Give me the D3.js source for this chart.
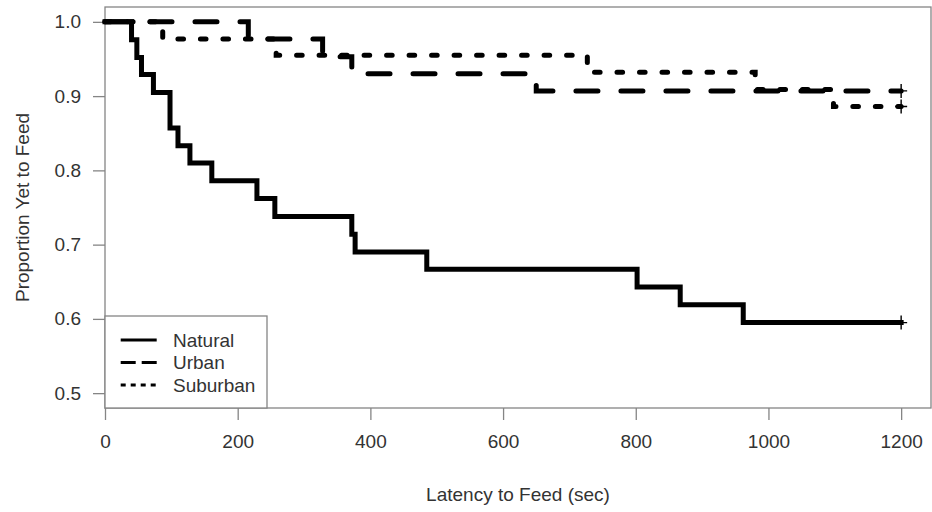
<!DOCTYPE html>
<html>
<head>
<meta charset="utf-8">
<script src="https://cdn.jsdelivr.net/npm/d3@7"></script>
<style>
  html, body { margin: 0; padding: 0; background: #fff; }
  svg { display: block; }
  text { font-family: "Liberation Sans", Arial, Helvetica, sans-serif; fill: #333; }
</style>
</head>
<body>
<svg id="chart" width="932" height="512"></svg>
<script>
// ---- data ----
const seriesNames = ["Natural", "Urban", "Suburban"];

const naturalTimes = [0, 40, 48, 55, 73, 98, 110, 128, 161, 229, 256, 372, 377, 485, 802, 867, 962, 1200];
const naturalSurv  = [1.0, 0.976, 0.952, 0.929, 0.905, 0.857, 0.833, 0.810, 0.786, 0.762, 0.738, 0.714, 0.690, 0.667, 0.643, 0.619, 0.595, 0.595];

const urbanTimes = [0, 216, 328, 372, 650, 1200];
const urbanSurv  = [1.0, 0.977, 0.953, 0.930, 0.907, 0.907];

const suburbanTimes = [0, 87, 258, 727, 980, 1098, 1200];
const suburbanSurv  = [1.0, 0.977, 0.955, 0.932, 0.909, 0.886, 0.886];

const censorTime = 1200;

const xTicks = [0, 200, 400, 600, 800, 1000, 1200];
const yTicks = [0.5, 0.6, 0.7, 0.8, 0.9, 1.0];

const xTitle = "Latency to Feed (sec)";
const yTitle = "Proportion Yet to Feed";

// ---- layout ----
const svg = d3.select("#chart");
const plot = { left: 105, right: 931, top: 7, bottom: 408 };

const x = d3.scaleLinear().domain([0, 1245]).range([plot.left, plot.right]);
const y = d3.scaleLinear().domain([0.48, 1.02]).range([plot.bottom, plot.top]);

const axisColor = "#858585";

// box
svg.append("rect")
  .attr("x", plot.left).attr("y", plot.top)
  .attr("width", plot.right - plot.left).attr("height", plot.bottom - plot.top)
  .attr("fill", "none").attr("stroke", axisColor).attr("stroke-width", 1.3);

// x axis
const xAxis = svg.append("g")
  .attr("transform", `translate(0,${plot.bottom})`)
  .call(d3.axisBottom(x).tickValues(xTicks).tickFormat(d3.format("d")).tickSize(12).tickPadding(15));
xAxis.select(".domain").remove();
xAxis.selectAll(".tick line").attr("stroke", axisColor).attr("stroke-width", 1.3);
xAxis.selectAll(".tick text").style("font-size", "19px").attr("fill", "#333")
  .style("font-family", '"Liberation Sans", Arial, sans-serif');

// y axis
const yAxis = svg.append("g")
  .attr("transform", `translate(${plot.left},0)`)
  .call(d3.axisLeft(y).tickValues(yTicks).tickFormat(d3.format(".1f")).tickSize(12).tickPadding(12));
yAxis.select(".domain").remove();
yAxis.selectAll(".tick line").attr("stroke", axisColor).attr("stroke-width", 1.3);
yAxis.selectAll(".tick text").style("font-size", "19px").attr("fill", "#333")
  .style("font-family", '"Liberation Sans", Arial, sans-serif');

// titles
svg.append("text")
  .attr("x", (plot.left + plot.right) / 2).attr("y", 494)
  .attr("text-anchor", "middle").attr("dominant-baseline", "central")
  .style("font-size", "19px").text(xTitle);

svg.append("text")
  .attr("transform", `translate(22,${(plot.top + plot.bottom) / 2}) rotate(-90)`)
  .attr("text-anchor", "middle").attr("dominant-baseline", "central")
  .style("font-size", "19px").text(yTitle);

// step curves
const stepLine = d3.line().x(d => x(d[0])).y(d => y(d[1])).curve(d3.curveStepAfter);

const series = [
  { name: seriesNames[0], times: naturalTimes, surv: naturalSurv, dash: null, cap: "square", ldash: null },
  { name: seriesNames[1], times: urbanTimes, surv: urbanSurv, dash: "22,23", cap: "round", ldash: "15,6" },
  { name: seriesNames[2], times: suburbanTimes, surv: suburbanSurv, dash: "5.6,16.9", cap: "round", ldash: "5,5" }
];

const g = svg.append("g");
series.slice().reverse().forEach(s => {
  const pts = s.times.map((t, i) => [t, s.surv[i]]);
  g.append("path")
    .datum(pts)
    .attr("d", stepLine)
    .attr("fill", "none")
    .attr("stroke", "#000")
    .attr("stroke-width", 5)
    .attr("stroke-linecap", s.cap)
    .attr("stroke-linejoin", "miter")
    .attr("stroke-dasharray", s.dash);
  // censor mark
  const cy = y(s.surv[s.surv.length - 1]);
  const cx = x(censorTime);
  g.append("path")
    .attr("d", `M${cx - 6},${cy}H${cx + 6}M${cx},${cy - 7}V${cy + 7}`)
    .attr("stroke", "#000").attr("stroke-width", 1.4).attr("fill", "none");
});

// legend
const leg = svg.append("g");
leg.append("rect")
  .attr("x", plot.left).attr("y", 316)
  .attr("width", 267 - plot.left).attr("height", plot.bottom - 316)
  .attr("fill", "#fff").attr("stroke", axisColor).attr("stroke-width", 1.3);
const legY = [340, 362.5, 385];
series.forEach((s, i) => {
  leg.append("line")
    .attr("x1", 120.7).attr("x2", 156.7)
    .attr("y1", legY[i]).attr("y2", legY[i])
    .attr("stroke", "#000").attr("stroke-width", 3)
    .attr("stroke-dasharray", s.ldash);
  leg.append("text")
    .attr("x", 173).attr("y", legY[i])
    .attr("dominant-baseline", "central")
    .style("font-size", "19px").text(s.name);
});
</script>
</body>
</html>
